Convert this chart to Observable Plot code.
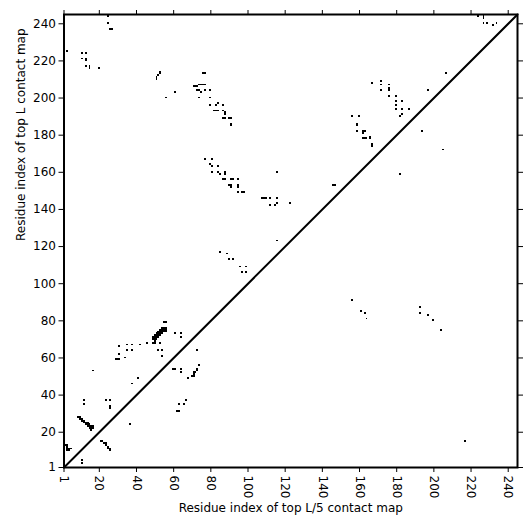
<!DOCTYPE html>
<html><head><meta charset="utf-8">
<script src="https://cdn.jsdelivr.net/npm/d3@7"></script>
<script src="https://cdn.jsdelivr.net/npm/@observablehq/plot@0.6"></script>
<style>body{margin:0;background:#fff} svg{font-family:"DejaVu Sans"}</style>
</head><body><div id="chart"></div>
<script>
const tickValues = [1, 20, 40, 60, 80, 100, 120, 140, 160, 180, 200, 220, 240];
const residueRange = [1, 245];
const xLabel = "Residue index of top L/5 contact map";
const yLabel = "Residue index of top L contact map";

// contacts above the diagonal [i, j]
const contactsUpper = [
  [1,13],[2,13],[3,13],[3,12],[3,11],[3,10],[4,10],[4,11],[5,11],
  [9,28],[10,27],[10,28],[11,26],[11,27],[12,25],[12,26],[13,24],[13,25],[14,23],[14,24],[14,25],[15,22],[15,23],[15,24],[16,22],[16,23],[16,21],[17,22],[17,23],
  [12,37],[12,35],[24,37],[26,37],[26,34],[26,33],[17,53],[38,46],[41,49],
  [29,59],[30,59],[31,59],[34,60],[31,62],[31,66],[35,67],[35,64],[38,64],[38,67],[42,67],[46,68],[49,68],[50,68],[53,68],[52,64],[54,64],[54,61],
  [49,70],[49,71],[50,69],[50,70],[50,71],[50,72],[51,70],[51,71],[51,72],[51,73],[52,71],[52,72],[52,73],[52,74],[53,72],[53,73],[53,74],[53,75],[54,73],[54,74],[54,75],[54,76],[55,74],[55,75],[55,76],[56,74],[56,75],[56,76],[55,79],[56,79],
  [61,73],[64,73],[64,71],
  [85,117],[89,116],[90,113],[92,113],[96,109],[99,109],[97,106],[99,106],
  [77,167],[81,167],[80,164],[81,163],[84,163],[81,160],[84,160],[85,159],[88,160],[88,159],[87,156],[88,156],[91,156],[92,156],[95,156],[90,153],[91,153],[91,152],[95,153],[95,152],[95,149],[97,149],[98,149],
  [108,146],[109,146],[110,146],[112,146],[116,146],[112,142],[115,142],[116,143],[116,160],[123,143],[116,123],[146,153],[147,153],
  [76,213],[77,213],[71,206],[72,206],[73,206],[74,207],[75,207],[76,207],[77,207],[73,204],[74,204],[75,203],[77,204],[80,204],[74,200],[80,200],[80,196],[83,196],[84,197],[87,196],[82,193],[83,193],[84,193],[87,193],[88,192],[88,191],[87,189],[88,189],[90,189],[91,189],[91,186],[91,185],
  [25,244],[25,240],[26,237],[27,237],[3,225],[11,224],[13,224],[11,221],[13,221],[13,220],[13,217],[15,217],[15,216],[20,216],
  [51,210],[51,211],[52,212],[53,213],[53,214],[61,203],[56,200],
  [167,208],[172,209],[172,207],[176,207],[176,205],[172,204],[176,204],[176,201],[180,201],[180,198],[180,196],[183,198],[180,194],[183,194],[187,194],[183,191],[182,190],[197,204],[207,213],
  [156,190],[160,190],[159,186],[159,185],[159,182],[162,182],[163,182],[162,181],[162,178],[163,178],[164,178],[166,178],[166,179],[167,175],[167,174],
  [224,244],[227,244],[227,243],[227,240],[229,240],[232,239],[234,240]
];

// contacts below the diagonal [i, j]
const contactsLower = [
  [11,5],[11,3],[21,15],[22,15],[23,14],[24,14],[24,13],[25,12],[25,11],[26,11],[26,10],[37,24],
  [62,31],[63,31],[63,35],[66,35],[67,37],[60,54],[61,54],[64,54],[64,52],[68,49],[70,50],[71,52],[71,51],[71,50],[72,52],[73,53],[73,54],[74,56],[73,64],
  [194,182],[205,172],[182,159],
  [156,91],[161,85],[163,84],[164,81],[193,87],[193,84],[197,83],[200,80],[204,75],[217,15]
];

const contacts = [...contactsUpper, ...contactsLower].map(([i, j]) => ({i, j}));

const chart = Plot.plot({
  width: 531, height: 531,
  marginLeft: 63.5, marginRight: 14, marginTop: 14, marginBottom: 64,
  style: {fontFamily: "DejaVu Sans", fontSize: "12px", background: "white", color: "black"},
  x: {domain: residueRange, label: null},
  y: {domain: residueRange, label: null},
  marks: [
    Plot.rect(contacts, {x1: d => d.i - 0.5, x2: d => d.i + 0.5, y1: d => d.j - 0.5, y2: d => d.j + 0.5, fill: "black", shapeRendering: "crispEdges", clip: true}),
    Plot.line(residueRange, {x: d => d, y: d => d, stroke: "black", strokeWidth: 2}),
    Plot.frame({stroke: "black", strokeWidth: 2}),
    Plot.axisX({anchor: "bottom", ticks: tickValues, tickSize: 5, tickPadding: 3, tickRotate: 90, label: null}),
    Plot.axisX({anchor: "top", ticks: tickValues, tickSize: 5, tickFormat: () => "", label: null}),
    Plot.axisY({anchor: "left", ticks: tickValues, tickSize: 5, tickPadding: 3, label: null}),
    Plot.axisY({anchor: "right", ticks: tickValues, tickSize: 5, tickFormat: () => "", label: null}),
    Plot.text([xLabel], {frameAnchor: "bottom", dy: 44, text: d => d, fontSize: 12}),
    Plot.text([yLabel], {frameAnchor: "left", dx: -43, rotate: -90, text: d => d, fontSize: 12})
  ]
});
document.getElementById("chart").appendChild(chart);
</script>
</body></html>
